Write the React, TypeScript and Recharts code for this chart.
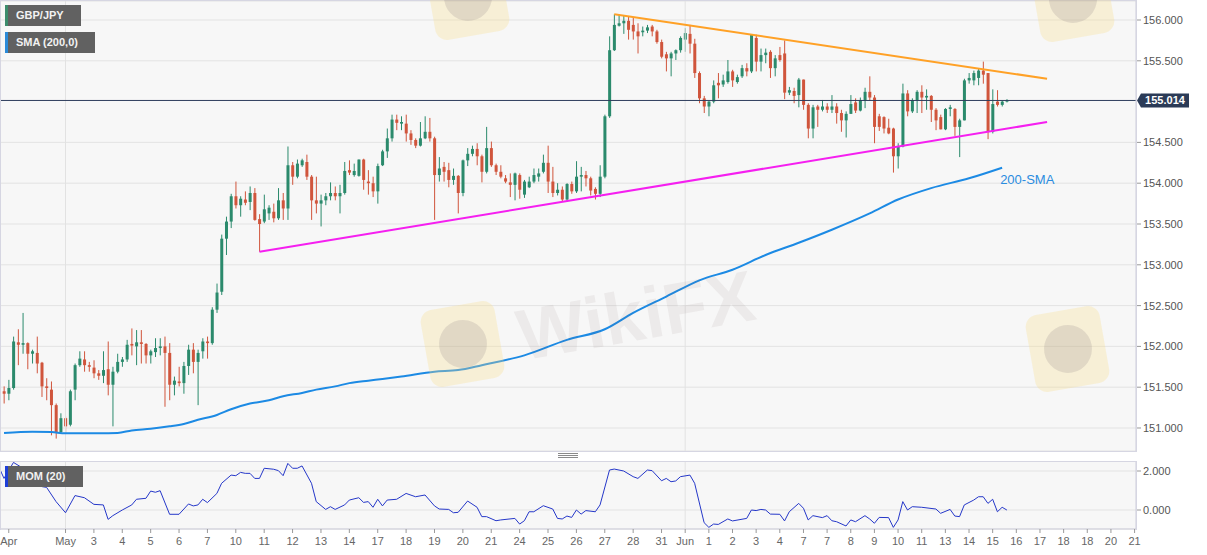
import React from 'react';
import {
  ComposedChart,
  LineChart,
  Bar,
  Line,
  XAxis,
  YAxis,
  CartesianGrid,
  ReferenceLine,
  ReferenceDot,
} from 'recharts';

const FONT = '"Liberation Sans", Arial, sans-serif';

// GBP/JPY 4H candles as [open, high, low, close], bar index = position in list
const candles: [number, number, number, number][] = [
  [151.45, 151.51, 151.30, 151.42], [151.42, 151.59, 151.34, 151.49], [151.49, 152.12, 151.47, 152.06], [152.05, 152.21, 151.77, 152.02],
  [152.02, 152.41, 151.91, 152.04], [152.04, 152.05, 151.72, 151.91], [151.91, 151.96, 151.79, 151.94], [151.92, 152.12, 151.67, 151.79],
  [151.80, 151.81, 151.38, 151.51], [151.51, 151.61, 151.34, 151.49], [151.47, 151.57, 150.91, 151.28], [151.28, 151.30, 150.87, 150.95],
  [150.95, 151.18, 150.93, 151.12], [151.12, 151.14, 150.93, 151.02], [151.04, 151.47, 151.02, 151.45], [151.47, 151.79, 151.34, 151.77],
  [151.77, 151.94, 151.75, 151.85], [151.84, 151.94, 151.69, 151.77], [151.77, 151.81, 151.69, 151.75], [151.74, 151.83, 151.61, 151.67],
  [151.67, 151.71, 151.59, 151.64], [151.64, 151.94, 151.55, 151.71], [151.72, 152.06, 151.40, 151.53], [151.53, 151.75, 151.02, 151.69],
  [151.69, 151.91, 151.67, 151.81], [151.81, 151.87, 151.75, 151.84], [151.84, 152.08, 151.81, 152.02], [152.03, 152.22, 151.89, 152.01],
  [152.00, 152.20, 151.77, 152.05], [152.05, 152.20, 151.79, 152.03], [152.03, 152.04, 151.79, 151.89], [151.89, 151.96, 151.79, 151.94],
  [151.93, 152.10, 151.87, 151.98], [151.98, 152.10, 151.89, 152.00], [152.00, 152.12, 151.26, 151.92], [151.92, 152.04, 151.34, 151.53],
  [151.53, 151.63, 151.40, 151.58], [151.57, 151.75, 151.51, 151.55], [151.55, 151.81, 151.42, 151.76], [151.76, 152.02, 151.65, 151.96],
  [151.96, 152.04, 151.67, 151.81], [151.81, 151.96, 151.28, 151.92], [151.94, 152.10, 151.85, 152.06], [152.06, 152.12, 151.85, 152.04],
  [152.04, 152.48, 152.02, 152.45], [152.45, 152.77, 152.41, 152.66], [152.67, 153.37, 152.63, 153.32], [153.32, 153.59, 153.12, 153.53],
  [153.53, 153.87, 153.45, 153.84], [153.84, 154.02, 153.69, 153.73], [153.73, 153.84, 153.59, 153.81], [153.80, 153.90, 153.73, 153.76],
  [153.77, 153.96, 153.67, 153.88], [153.88, 153.94, 153.54, 153.55], [153.56, 153.62, 153.16, 153.50], [153.53, 153.86, 153.51, 153.68],
  [153.63, 153.73, 153.55, 153.70], [153.65, 153.75, 153.52, 153.57], [153.57, 153.94, 153.55, 153.79], [153.79, 153.88, 153.55, 153.69],
  [153.69, 154.45, 153.55, 154.22], [154.22, 154.26, 153.98, 154.08], [154.08, 154.29, 154.06, 154.24], [154.22, 154.30, 154.20, 154.28],
  [154.26, 154.35, 154.04, 154.08], [154.08, 154.10, 153.55, 153.79], [153.79, 154.08, 153.63, 153.75], [153.75, 153.86, 153.47, 153.79],
  [153.79, 153.88, 153.73, 153.84], [153.84, 154.01, 153.79, 153.88], [153.88, 153.96, 153.79, 153.84], [153.84, 153.98, 153.63, 153.88],
  [153.88, 154.26, 153.86, 154.15], [154.16, 154.28, 154.10, 154.13], [154.10, 154.24, 154.08, 154.15], [154.09, 154.29, 154.08, 154.29],
  [154.29, 154.30, 153.92, 154.04], [154.02, 154.16, 153.86, 154.00], [154.00, 154.08, 153.83, 153.90], [153.90, 154.24, 153.75, 154.21],
  [154.22, 154.41, 154.21, 154.39], [154.39, 154.67, 154.31, 154.55], [154.55, 154.84, 154.51, 154.78], [154.78, 154.84, 154.65, 154.74],
  [154.73, 154.82, 154.65, 154.75], [154.73, 154.84, 154.51, 154.61], [154.61, 154.65, 154.47, 154.53], [154.53, 154.55, 154.43, 154.46],
  [154.46, 154.75, 154.45, 154.55], [154.55, 154.82, 154.54, 154.63], [154.63, 154.80, 154.51, 154.55], [154.55, 154.57, 153.55, 154.10],
  [154.10, 154.32, 154.02, 154.18], [154.20, 154.26, 154.02, 154.14], [154.16, 154.25, 153.95, 154.04], [154.04, 154.18, 153.98, 154.09],
  [154.09, 154.10, 153.63, 153.88], [153.88, 154.29, 153.84, 154.28], [154.28, 154.43, 154.21, 154.36], [154.36, 154.46, 154.33, 154.42],
  [154.42, 154.49, 154.22, 154.33], [154.33, 154.35, 154.01, 154.14], [154.14, 154.69, 154.12, 154.43], [154.43, 154.51, 154.20, 154.22],
  [154.22, 154.24, 154.10, 154.14], [154.14, 154.22, 154.06, 154.08], [154.06, 154.10, 154.00, 154.02], [154.01, 154.12, 153.83, 153.98],
  [153.98, 154.13, 153.79, 154.12], [154.10, 154.12, 153.81, 153.92], [153.86, 154.04, 153.82, 154.02], [153.95, 154.08, 153.94, 154.02],
  [154.02, 154.18, 154.00, 154.10], [154.08, 154.18, 154.02, 154.12], [154.14, 154.35, 154.12, 154.25], [154.25, 154.46, 153.88, 154.02],
  [154.02, 154.20, 153.83, 153.88], [153.88, 154.00, 153.85, 153.92], [153.92, 153.96, 153.78, 153.80], [153.80, 154.00, 153.77, 153.99],
  [153.99, 154.02, 153.87, 153.90], [153.90, 154.27, 153.88, 154.08], [154.08, 154.20, 153.90, 154.10], [154.10, 154.15, 153.96, 154.06],
  [154.06, 154.08, 153.85, 153.91], [153.93, 153.95, 153.80, 153.87], [153.87, 154.22, 153.83, 154.08], [154.08, 154.84, 154.06, 154.82],
  [154.82, 155.80, 154.80, 155.63], [155.63, 156.07, 155.62, 155.94], [155.93, 156.06, 155.92, 155.96], [155.96, 156.06, 155.83, 155.99],
  [155.99, 156.04, 155.76, 155.88], [155.94, 156.03, 155.76, 155.86], [155.86, 155.96, 155.59, 155.80], [155.85, 155.92, 155.80, 155.87],
  [155.87, 155.94, 155.84, 155.91], [155.92, 155.94, 155.80, 155.86], [155.86, 155.88, 155.71, 155.73], [155.73, 155.76, 155.53, 155.55],
  [155.58, 155.61, 155.37, 155.53], [155.53, 155.61, 155.31, 155.59], [155.59, 155.64, 155.51, 155.63], [155.63, 155.80, 155.60, 155.78],
  [155.76, 155.90, 155.61, 155.84], [155.83, 155.94, 155.59, 155.71], [155.71, 155.77, 155.29, 155.35], [155.35, 155.37, 154.98, 155.04],
  [155.04, 155.07, 154.86, 154.94], [154.94, 155.01, 154.82, 155.00], [155.00, 155.26, 154.98, 155.20], [155.23, 155.35, 155.04, 155.20],
  [155.21, 155.33, 155.18, 155.26], [155.24, 155.51, 155.22, 155.37], [155.37, 155.39, 155.18, 155.26], [155.24, 155.33, 155.22, 155.30],
  [155.31, 155.45, 155.29, 155.41], [155.41, 155.47, 155.31, 155.37], [155.37, 155.82, 155.35, 155.82], [155.78, 155.82, 155.37, 155.49],
  [155.49, 155.65, 155.37, 155.57], [155.57, 155.65, 155.47, 155.60], [155.61, 155.63, 155.29, 155.41], [155.41, 155.57, 155.31, 155.53],
  [155.57, 155.67, 155.49, 155.51], [155.59, 155.75, 155.03, 155.11], [155.11, 155.18, 155.08, 155.14], [155.13, 155.17, 154.98, 155.07],
  [155.08, 155.29, 154.93, 155.27], [155.27, 155.27, 154.90, 154.96], [154.96, 154.98, 154.55, 154.67], [154.67, 154.96, 154.55, 154.93],
  [154.94, 154.96, 154.69, 154.90], [154.90, 155.02, 154.88, 154.94], [154.94, 154.98, 154.86, 154.90], [154.90, 155.08, 154.86, 154.94],
  [154.94, 154.98, 154.73, 154.86], [154.86, 154.90, 154.63, 154.77], [154.77, 154.88, 154.56, 154.85], [154.85, 155.08, 154.85, 154.97],
  [154.99, 155.04, 154.86, 154.89], [154.89, 155.05, 154.88, 155.02], [155.02, 155.17, 154.92, 155.12], [155.12, 155.31, 155.01, 155.05],
  [155.05, 155.08, 154.49, 154.69], [154.82, 154.85, 154.64, 154.69], [154.81, 154.82, 154.61, 154.67], [154.68, 154.79, 154.60, 154.61],
  [154.67, 154.68, 154.13, 154.33], [154.33, 154.49, 154.18, 154.45], [154.45, 155.22, 154.44, 155.10], [155.10, 155.14, 154.82, 154.88],
  [154.88, 155.04, 154.86, 155.02], [155.02, 155.14, 154.86, 155.12], [155.12, 155.20, 154.86, 155.05], [155.05, 155.15, 154.90, 155.07],
  [155.07, 155.08, 154.75, 154.90], [154.90, 154.92, 154.65, 154.77], [154.81, 154.84, 154.66, 154.66], [154.66, 154.92, 154.65, 154.91],
  [154.91, 154.96, 154.82, 154.93], [154.91, 154.92, 154.58, 154.69], [154.69, 154.79, 154.32, 154.77], [154.77, 155.28, 154.77, 155.26],
  [155.26, 155.35, 155.22, 155.29], [155.26, 155.38, 155.20, 155.35], [155.29, 155.40, 155.20, 155.38], [155.38, 155.49, 155.22, 155.33],
  [155.35, 155.35, 154.54, 154.63], [154.63, 155.15, 154.61, 154.97], [155.00, 155.14, 154.94, 154.96], [154.96, 155.01, 154.94, 155.00],
  [155.00, 155.03, 154.99, 155.014],
];

// 200-period SMA, [bar index, value]
const smaPoints: [number, number][] = [
  [0, 150.94], [6, 150.955], [10, 150.95], [13, 150.935], [20, 150.935], [24, 150.94], [27, 150.97], [31, 150.99],
  [35, 151.02], [38, 151.05], [41, 151.1], [45, 151.16], [48, 151.23], [52, 151.3], [56, 151.34], [59, 151.39],
  [63, 151.43], [66, 151.47], [70, 151.51], [73, 151.55], [77, 151.58], [80, 151.6], [84, 151.63], [91, 151.69],
  [96, 151.71], [101, 151.77], [110, 151.89], [119, 152.08], [127, 152.21], [133, 152.41], [140, 152.61], [147, 152.81],
  [154, 152.94], [161, 153.12], [168, 153.27], [175, 153.43], [183, 153.63], [189, 153.8], [196, 153.94], [204, 154.06],
  [211, 154.19],
];

// Momentum (20), [bar index, value]
const momPoints: [number, number][] = [
  [-0.8, 2.05], [0, 1.62], [2, 2.44], [4, 2.14], [6, 1.71], [8, 1.2], [9, 1.16], [11, 0.43], [13, -0.14], [15, 0.74],
  [17, 0.63], [19, 0.29], [21, 0.26], [22, -0.48], [23, -0.29], [25, 0.0], [27, 0.26], [28, 0.55], [30, 0.6], [31, 0.97],
  [32, 0.91], [33, 0.99], [35, -0.22], [37, -0.22], [39, 0.31], [40, 0.21], [41, 0.26], [42, 0.55], [43, 0.38], [45, 0.85],
  [46, 1.37], [48, 1.79], [49, 1.76], [50, 1.93], [51, 1.88], [52, 1.88], [53, 1.62], [54, 1.62], [55, 2.14], [57, 2.09],
  [58, 2.02], [59, 1.76], [60, 2.39], [61, 2.14], [62, 2.14], [63, 2.26], [65, 1.37], [66, 0.43], [68, 0.03], [69, 0.17],
  [70, 0.03], [72, 0.26], [73, 0.51], [75, 0.63], [76, 0.39], [77, 0.43], [78, 0.14], [79, 0.55], [80, 0.21], [81, 0.51],
  [83, 0.55], [85, 0.85], [87, 0.68], [89, 0.77], [91, 0.21], [92, 0.05], [94, 0.03], [95, -0.14], [96, -0.12], [98, 0.46],
  [100, 0.14], [101, -0.34], [102, -0.34], [104, -0.55], [105, -0.51], [108, -0.43], [109, -0.72], [110, -0.55], [111, -0.09], [112, -0.09],
  [114, 0.22], [116, 0.05], [117, -0.43], [118, -0.46], [119, -0.31], [120, -0.38], [121, 0.0], [122, -0.21], [123, -0.03], [125, -0.09],
  [126, 0.26], [128, 2.05], [129, 2.1], [131, 2.0], [133, 1.71], [134, 1.62], [136, 2.05], [137, 2.02], [139, 1.5], [140, 1.62],
  [141, 1.45], [142, 1.49], [143, 1.71], [145, 1.79], [146, 1.37], [148, -0.65], [149, -0.89], [150, -0.72], [151, -0.74], [153, -0.46],
  [154, -0.56], [157, -0.43], [158, 0.0], [159, -0.03], [160, 0.03], [161, 0.0], [162, -0.21], [164, -0.22], [165, -0.56], [166, -0.09],
  [168, 0.34], [169, 0.09], [170, -0.51], [171, -0.29], [173, -0.39], [174, -0.29], [175, -0.55], [176, -0.6], [178, -0.82], [179, -0.51],
  [180, -0.6], [182, -0.29], [183, -0.46], [184, -0.68], [185, -0.38], [187, -0.39], [188, -0.89], [189, -0.51], [190, 0.43], [191, 0.0],
  [192, 0.17], [194, 0.14], [197, 0.05], [198, -0.17], [200, 0.03], [201, -0.31], [202, -0.34], [203, 0.26], [205, 0.51], [206, 0.68],
  [207, 0.68], [208, 0.34], [209, 0.55], [210, -0.09], [211, 0.14], [212, 0.0],
];

// x axis labels at bar index
const xTicks: [number, string][] = [
  [1, 'Apr'], [13, 'May'], [19, '3'], [25, '4'], [31, '5'], [37, '6'], [43, '7'], [49, '10'], [55, '11'], [61, '12'],
  [67, '13'], [73, '14'], [79, '17'], [85, '18'], [91, '19'], [97, '20'], [103, '21'], [109, '24'], [115, '25'], [121, '26'],
  [127, '27'], [133, '28'], [139, '31'], [144, 'Jun'], [149, '1'], [154, '2'], [159, '3'], [164, '4'], [169, '7'], [174, '7'],
  [179, '8'], [184, '9'], [189, '10'], [194, '11'], [199, '13'], [204, '14'], [209, '15'], [214, '16'], [219, '17'], [224, '18'],
  [229, '18'], [234, '20'], [239, '21'],
];
const monthStarts = [13, 144];
// 155.000 sits under the last-price tag, so it is left out
const priceTicks = [151, 151.5, 152, 152.5, 153, 153.5, 154, 154.5, 155.5, 156];
const momTicks = [0, 2];

const lastPrice = 155.014;
const resistance = [{ x: 129, y: 156.07 }, { x: 220.5, y: 155.28 }];
const support = [{ x: 54, y: 153.16 }, { x: 220.5, y: 154.75 }];
const smaTag = { x: 211, y: 154.05, text: '200-SMA' };

// watermark tiles (logo top-left corner, px); only the middle one shows its full text
const marks: [number, number, boolean][] = [[-180, 305, false], [425, 305, true], [1030, 310, false], [430, -42, false], [1035, -40, false]];

const X_DOMAIN: [number, number] = [-0.85, 239.3];
const UP = '#2b8a6c';
const DOWN = '#d0553c';

const smaMap = new Map(smaPoints);
const rows = candles.map(([o, h, l, c], i) => ({
  i, o, h, l, c,
  range: [l, h],
  sma: smaMap.has(i) ? smaMap.get(i) : null,
}));
const momRows = momPoints.map(([i, v]) => ({ i, v }));
const xLabel = new Map(xTicks);

function Candle(props: any) {
  const { x, y, width, height, payload } = props;
  if (x == null || y == null || !payload) return null;
  const top = Math.min(y, y + height);
  const span = Math.abs(height);
  const { o, h, l, c } = payload;
  const toY = (v: number) => (h === l ? top : top + ((h - v) / (h - l)) * span);
  const cx = x + width / 2;
  const color = c >= o ? UP : DOWN;
  const bTop = toY(Math.max(o, c));
  const bBot = toY(Math.min(o, c));
  return (
    <g>
      <line x1={cx} x2={cx} y1={top} y2={top + span} stroke={color} strokeWidth={1} />
      <rect x={cx - 1.5} y={bTop} width={3} height={Math.max(1, bBot - bTop)} fill={color} />
    </g>
  );
}

function PriceTag(props: any) {
  const vb = props.viewBox;
  if (!vb) return null;
  const x = vb.x + vb.width + 1;
  const y = vb.y;
  return (
    <g>
      <path d={`M${x} ${y} L${x + 4} ${y - 7} L${x + 52} ${y - 7} L${x + 52} ${y + 7} L${x + 4} ${y + 7} Z`} fill="#2b3b57" />
      <text x={x + 28} y={y} dy="0.35em" textAnchor="middle" fill="#fff" fontSize={11} fontWeight="bold" fontFamily={FONT}>
        {lastPrice.toFixed(3)}
      </text>
    </g>
  );
}

function SmaTag(props: any) {
  const vb = props.viewBox;
  if (!vb) return null;
  return (
    <text x={vb.x - 2} y={vb.y} dy="0.35em" fill="#2a8ce0" fontSize={13} fontFamily={FONT}>
      {smaTag.text}
    </text>
  );
}

function Watermark({ left, top, withText }: { left: number; top: number; withText: boolean }) {
  return (
    <>
      <div
        style={{
          position: 'absolute', left, top, width: 75, height: 78, borderRadius: 12,
          background: 'rgba(250,222,140,0.3)', transform: 'rotate(-10deg)', pointerEvents: 'none',
        }}
      >
        <div style={{ position: 'absolute', left: 14, top: 15, width: 48, height: 48, borderRadius: 24, background: 'rgba(110,100,115,0.16)' }} />
      </div>
      {withText && (
        <div
          style={{
            position: 'absolute', left: left + 93, top: top - 5, fontFamily: FONT, fontSize: 72, fontWeight: 'bold',
            lineHeight: '72px', color: 'rgba(110,90,90,0.08)', transform: 'rotate(-10deg)', transformOrigin: 'left center',
            whiteSpace: 'nowrap', pointerEvents: 'none',
          }}
        >
          WikiFX
        </div>
      )}
    </>
  );
}

const tag = (top: number, width: number, border: string): React.CSSProperties => ({
  position: 'absolute',
  left: 5,
  top,
  width,
  height: 21,
  boxSizing: 'border-box',
  background: '#616161',
  borderLeft: `3px solid ${border}`,
  color: '#f2f2f2',
  fontFamily: FONT,
  fontSize: 11,
  fontWeight: 'bold',
  lineHeight: '21px',
  paddingLeft: 8,
});

export default function App() {
  const axisTick = { fill: '#555', fontSize: 11, fontFamily: FONT };
  return (
    <div style={{ position: 'absolute', left: 0, top: 0, width: 1207, height: 555, background: '#fff', overflow: 'hidden' }}>
      <div style={{ position: 'absolute', left: 0, top: 0 }}>
        <ComposedChart width={1207} height={452} data={rows} margin={{ top: 1, right: 0, bottom: 1, left: 0 }}>
          <CartesianGrid vertical={false} stroke="#e3e3e3" fill="#f7f7f7" />
          <XAxis type="number" dataKey="i" domain={X_DOMAIN} allowDataOverflow hide />
          <YAxis
            orientation="right"
            type="number"
            domain={[150.718, 156.233]}
            allowDataOverflow
            ticks={priceTicks}
            tickFormatter={(v: number) => v.toFixed(3)}
            width={71}
            tickSize={5}
            axisLine={{ stroke: '#cdcdda' }}
            tickLine={{ stroke: '#999' }}
            tick={axisTick}
          />
          {monthStarts.map((m) => (
            <ReferenceLine key={m} x={m} stroke="#e2e2e2" />
          ))}
          <Line dataKey="sma" type="monotone" stroke="#1c8ae4" strokeWidth={2} dot={false} connectNulls isAnimationActive={false} />
          <ReferenceLine segment={support} stroke="#f51ff0" strokeWidth={2} />
          <ReferenceLine segment={resistance} stroke="#ffa126" strokeWidth={2} />
          <Bar dataKey="range" barSize={3} isAnimationActive={false} shape={(p: any) => <Candle {...p} />} />
          <ReferenceLine y={lastPrice} stroke="#2d3d5c" strokeWidth={1} label={(p: any) => <PriceTag {...p} />} />
          <ReferenceDot x={smaTag.x} y={smaTag.y} r={0} fill="none" stroke="none" label={(p: any) => <SmaTag {...p} />} />
        </ComposedChart>
      </div>
      <div style={{ position: 'absolute', left: 0, top: 0, width: 1137, height: 452, boxSizing: 'border-box', border: '1px solid #d6d6e2', pointerEvents: 'none' }} />

      <div style={{ position: 'absolute', left: 0, top: 461 }}>
        <LineChart width={1207} height={94} data={momRows} margin={{ top: 0, right: 0, bottom: 0, left: 0 }}>
          <CartesianGrid vertical={false} stroke="#e3e3e3" fill="#f7f7f7" />
          <XAxis
            type="number"
            dataKey="i"
            domain={X_DOMAIN}
            allowDataOverflow
            ticks={xTicks.map((t) => t[0])}
            interval={0}
            tickFormatter={(v: number) => xLabel.get(v) ?? ''}
            height={26}
            tickSize={4}
            tickMargin={4}
            axisLine={{ stroke: '#cdcdda' }}
            tickLine={{ stroke: '#999' }}
            tick={{ fill: '#666', fontSize: 11, fontFamily: FONT }}
          />
          <YAxis
            orientation="right"
            type="number"
            domain={[-0.974, 2.513]}
            allowDataOverflow
            ticks={momTicks}
            tickFormatter={(v: number) => v.toFixed(3)}
            width={71}
            tickSize={5}
            axisLine={{ stroke: '#cdcdda' }}
            tickLine={{ stroke: '#999' }}
            tick={axisTick}
          />
          {monthStarts.map((m) => (
            <ReferenceLine key={m} x={m} stroke="#e2e2e2" />
          ))}
          <Line dataKey="v" type="linear" stroke="#2537c9" strokeWidth={1} dot={false} isAnimationActive={false} />
        </LineChart>
      </div>
      <div style={{ position: 'absolute', left: 0, top: 461, width: 1137, height: 69, boxSizing: 'border-box', border: '1px solid #d6d6e2', borderBottom: 'none', pointerEvents: 'none' }} />

      {/* faint WikiFX watermark, clipped to the price panel */}
      <div style={{ position: 'absolute', left: 0, top: 0, width: 1207, height: 451, overflow: 'hidden', pointerEvents: 'none' }}>
        {marks.map(([l, t, withText]) => (
          <Watermark key={`${l}-${t}`} left={l} top={t} withText={withText} />
        ))}
      </div>

      {/* panel splitter handle */}
      {[453, 455, 457].map((t) => (
        <div key={t} style={{ position: 'absolute', left: 558, top: t, width: 20, height: 1, background: '#8a8a8a' }} />
      ))}

      <div style={tag(5, 76, '#3c8c6c')}>GBP/JPY</div>
      <div style={tag(32, 90, '#2b8ad8')}>SMA (200,0)</div>
      <div style={tag(466, 78, '#1e3fd8')}>MOM (20)</div>
    </div>
  );
}
